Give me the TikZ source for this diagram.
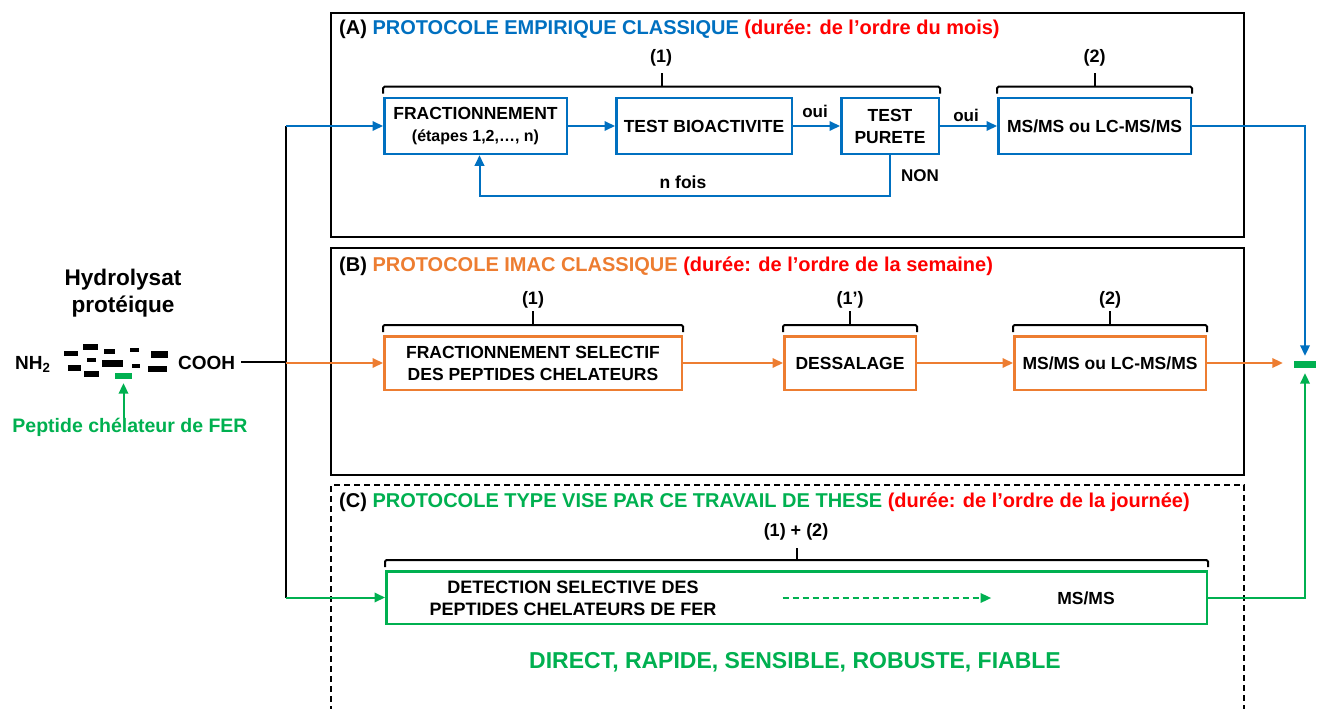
\documentclass[tikz,border=0pt]{standalone}
\usepackage{fontspec}
\setmainfont{Liberation Sans}
\usetikzlibrary{arrows.meta,calc}
\definecolor{cblue}{HTML}{0070C0}
\definecolor{corange}{HTML}{ED7D31}
\definecolor{cgreen}{HTML}{00B050}
\definecolor{cred}{HTML}{FF0000}
\begin{document}
\begin{tikzpicture}[x=1pt,y=-1pt,
  every node/.style={font=\bfseries, inner sep=0pt},
  boxtxt/.style={font=\fontsize{17.5}{22}\selectfont\bfseries, align=center},
  bbox/.style={boxtxt, draw=cblue, line width=2.5pt, minimum height=56pt},
  obox/.style={boxtxt, draw=corange, line width=2.5pt, minimum height=53.5pt},
  gbox/.style={draw=cgreen, line width=2.5pt, minimum height=52.5pt},
  con/.style={line width=2pt, -{Triangle[length=10.5pt,width=9.5pt]}},
  brc/.style={line width=2pt, rounded corners=1.5pt},
  frame/.style={line width=2.5pt},
  dframe/.style={line width=2pt, dash pattern=on 6pt off 4pt},
  title/.style={anchor=west, font=\fontsize{20}{24}\selectfont\bfseries},
  lbl/.style={font=\fontsize{18}{22}\selectfont\bfseries},
]
\useasboundingbox (0,0) rectangle (1326,709);

% frames
\draw[frame] (331,13) rectangle (1244,237);
\draw[frame] (331,248) rectangle (1244,475);
\draw[dframe] (331,712) -- (331,485) -- (1244,485) -- (1244,712);

% titles
\node[title] (tA) at (339,29) {(A) \textcolor{cblue}{PROTOCOLE EMPIRIQUE CLASSIQUE} \textcolor{cred}{(durée: de l’ordre du mois)}};
\node[title] (tB) at (339,266) {(B) \textcolor{corange}{PROTOCOLE IMAC CLASSIQUE} \textcolor{cred}{(durée: de l’ordre de la semaine)}};
\node[title] (tC) at (339,502) {(C) \textcolor{cgreen}{PROTOCOLE TYPE VISE PAR CE TRAVAIL DE THESE} \textcolor{cred}{(durée: de l’ordre de la journée)}};

% left part
\node[font=\fontsize{22.6}{27}\selectfont\bfseries, align=center] (hyd) at (123,293.5) {Hydrolysat\\protéique};
\node[font=\fontsize{19}{23}\selectfont\bfseries, anchor=base west] (nh2) at (15,369) {NH\textsubscript{2}};
\node[font=\fontsize{19}{23}\selectfont\bfseries, anchor=base west] (cooh) at (178,369) {COOH};
\fill (64,351) rectangle (78,356);
\fill (83,344) rectangle (98,350);
\fill (87,358) rectangle (96,362);
\fill (68,365) rectangle (81,371);
\fill (84,371) rectangle (99,377);
\fill (104,349) rectangle (115,354);
\fill (102,360) rectangle (123,367);
\fill (130,348) rectangle (139,352);
\fill (132,364) rectangle (140,368);
\fill (151,351) rectangle (168,358);
\fill (148,366) rectangle (167,372);
\node[fill=cgreen, minimum width=17pt, minimum height=6pt] (pbar) at (123.5,376) {};
\node[font=\fontsize{19.5}{23}\selectfont\bfseries, text=cgreen] (pep) at (130,427) {Peptide chélateur de FER};
\draw[con, cgreen, shorten >=4pt] (pbar.south |- pep.north) -- (pbar.south);

% boxes A
\node[bbox, minimum width=182.5pt] (frac) at (475.5,126) {FRACTIONNEMENT\\{\fontsize{16}{20}\selectfont(étapes 1,2,…, n)}};
\node[bbox, minimum width=175.5pt] (bio) at (704,126) {TEST BIOACTIVITE};
\node[bbox, minimum width=97.5pt] (pur) at (890,126) {TEST\\PURETE};
\node[bbox, minimum width=192.5pt] (msA) at (1094.5,126) {MS/MS ou LC-MS/MS};

% boxes B
\node[obox, minimum width=297.5pt] (fsel) at (533,363) {FRACTIONNEMENT SELECTIF\\DES PEPTIDES CHELATEURS};
\node[obox, minimum width=131.5pt] (dess) at (850,363) {DESSALAGE};
\node[obox, minimum width=191.5pt] (msB) at (1110,363) {MS/MS ou LC-MS/MS};

% box C
\node[gbox, minimum width=820.5pt] (cbox) at (796.5,597.5) {};
\node[boxtxt, font=\fontsize{18}{22}\selectfont\bfseries] (det) at (573,598) {DETECTION SELECTIVE DES\\PEPTIDES CHELATEURS DE FER};
\node[boxtxt] (msC) at (1086,598) {MS/MS};
\node[font=\fontsize{23}{28}\selectfont\bfseries, text=cgreen] (adj) at (795,662) {DIRECT, RAPIDE, SENSIBLE, ROBUSTE, FIABLE};

% brace labels
\node[lbl] (b1A) at (661,58) {(1)};
\node[lbl] (b2A) at (1094.5,58) {(2)};
\node[lbl] (b1B) at (533,300) {(1)};
\node[lbl] (b1pB) at (850,300) {(1’)};
\node[lbl] (b2B) at (1110,300) {(2)};
\node[lbl] (b12C) at (796,532) {(1) + (2)};

% braces
\draw[brc] ([yshift=3pt]frac.north west) -- ([yshift=10pt]frac.north west) -- ([yshift=10pt]pur.north east) -- ([yshift=3pt]pur.north east);
\draw[brc] ($(frac.north west)!.5!(pur.north east)+(0,-10)$) -- ++(0,-14);
\draw[brc] ([yshift=3pt]msA.north west) -- ([yshift=10pt]msA.north west) -- ([yshift=10pt]msA.north east) -- ([yshift=3pt]msA.north east);
\draw[brc] ([yshift=10pt]msA.north) -- ++(0,-14);
\draw[brc] ([yshift=3pt]fsel.north west) -- ([yshift=10pt]fsel.north west) -- ([yshift=10pt]fsel.north east) -- ([yshift=3pt]fsel.north east);
\draw[brc] ([yshift=10pt]fsel.north) -- ++(0,-14);
\draw[brc] ([yshift=3pt]dess.north west) -- ([yshift=10pt]dess.north west) -- ([yshift=10pt]dess.north east) -- ([yshift=3pt]dess.north east);
\draw[brc] ([yshift=10pt]dess.north) -- ++(0,-14);
\draw[brc] ([yshift=3pt]msB.north west) -- ([yshift=10pt]msB.north west) -- ([yshift=10pt]msB.north east) -- ([yshift=3pt]msB.north east);
\draw[brc] ([yshift=10pt]msB.north) -- ++(0,-14);
\draw[brc] ([yshift=3pt]cbox.north west) -- ([yshift=10pt]cbox.north west) -- ([yshift=10pt]cbox.north east) -- ([yshift=3pt]cbox.north east);
\draw[brc] ([yshift=10pt]cbox.north) -- ++(0,-12);

% connectors
\coordinate (jA) at (286,126);
\coordinate (split) at (286,363);
\coordinate (jC) at (286,597.5);
\draw[line width=2pt] (jA) -- (jC);
\draw[line width=2pt, shorten <=6pt] (cooh.east) -- (cooh.east -| split);
\draw[con, cblue] (jA) -- (frac);
\draw[con, corange] (split) -- (fsel);
\draw[con, cgreen] (jC) -- (cbox);

\draw[con, cblue] (frac) -- (bio);
\draw[con, cblue] (bio) -- (pur);
\draw[con, cblue] (pur) -- (msA);
\draw[con, cblue] (pur.south) -- ++(0,41) -| ([xshift=4pt]frac.south);
\node[font=\fontsize{17}{20}\selectfont\bfseries] (oui1) at (815,111) {oui};
\node[font=\fontsize{17}{20}\selectfont\bfseries] (oui2) at (966,115) {oui};
\node[font=\fontsize{17}{20}\selectfont\bfseries] (non) at (920,176) {NON};
\node[font=\fontsize{17.5}{20}\selectfont\bfseries] (nfois) at (683,182) {n fois};

\draw[con, corange] (fsel) -- (dess);
\draw[con, corange] (dess) -- (msB);

\draw[con, cgreen, line width=1.6pt, dash pattern=on 6pt off 4pt, shorten <=66pt, shorten >=66pt] (det.east |- msC.west) -- (msC.west);

% target bar
\node[fill=cgreen, minimum width=22pt, minimum height=7pt] (tgt) at (1305,364.5) {};
\draw[con, cblue, shorten >=5pt] (msA) -| (tgt.north);
\draw[con, corange, shorten >=11pt] (msB.east) -- (msB.east -| tgt.west);
\draw[con, cgreen, shorten >=5pt] (cbox) -| (tgt.south);
\end{tikzpicture}
\end{document}
